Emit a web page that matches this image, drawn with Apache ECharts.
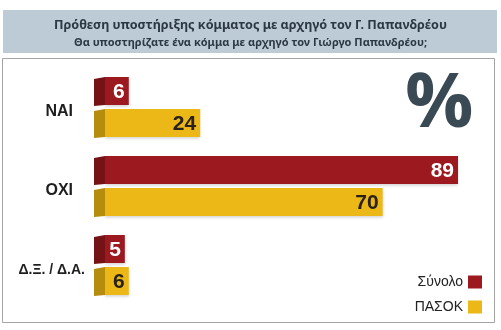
<!DOCTYPE html>
<html>
<head>
<meta charset="utf-8">
<script src="https://cdn.jsdelivr.net/npm/echarts@6/dist/echarts.min.js"></script>
<style>
  html, body { margin: 0; padding: 0; background: #fff; }
  #chart { width: 501px; height: 330px; }
</style>
</head>
<body>
<div id="chart"></div>
<script>
// Poll answers (%), one row per answer
const categories = ['NAI', 'OXI', 'Δ.Ξ. / Δ.Α.'];
const totalValues = [6, 89, 5];   // Σύνολο
const pasokValues = [24, 70, 6];  // ΠΑΣΟΚ

const seriesNames = ['Σύνολο', 'ΠΑΣΟΚ'];
const titleText = 'Πρόθεση υποστήριξης κόμματος με αρχηγό τον Γ. Παπανδρέου';
const subtitleText = 'Θα υποστηρίζατε ένα κόμμα με αρχηγό τον Γιώργο Παπανδρέου;';

const LABEL_FONT = "'Liberation Sans', Arial, sans-serif";

const palette = [
  { front: '#9c1a1f', side: '#741216', label: '#ffffff' },
  { front: '#ebb817', side: '#b68c0e', label: '#2a2218' }
];

// 3D-looking bar: a slanted side face left of zero plus the front face
function makeRenderer(seriesIdx) {
  return function (params, api) {
    const value = api.value(0);
    const cat = api.value(1);
    const start = api.coord([0, cat]);
    const end = api.coord([value, cat]);
    const band = api.size([0, 1])[1];
    const h = band * 0.355;
    const gap = band * 0.025;
    const yTop = seriesIdx === 0 ? start[1] - gap - h : start[1] + gap;
    const depth = 11;
    const col = palette[seriesIdx];
    return {
      type: 'group',
      children: [
        {
          type: 'rect',
          shape: { x: start[0], y: yTop, width: end[0] - start[0], height: h },
          style: {
            fill: col.front,
            shadowColor: 'rgba(0,0,0,0.18)',
            shadowBlur: 3,
            shadowOffsetY: 2
          }
        },
        {
          type: 'polygon',
          shape: {
            points: [
              [start[0] - depth, yTop + 2],
              [start[0], yTop],
              [start[0], yTop + h],
              [start[0] - depth, yTop + h + 1]
            ]
          },
          style: { fill: col.side }
        },
        {
          type: 'text',
          style: {
            x: end[0] - 4,
            y: yTop + h / 2 + 1,
            text: String(value),
            align: 'right',
            verticalAlign: 'middle',
            fill: col.label,
            font: "bold 21px " + LABEL_FONT
          }
        }
      ]
    };
  };
}

function toData(values) {
  return values.map(function (v, i) { return [v, i]; });
}

const chart = echarts.init(document.getElementById('chart'), null, { renderer: 'canvas' });

chart.setOption({
  animation: false,
  backgroundColor: '#ffffff',
  title: {
    text: titleText,
    subtext: subtitleText,
    left: 'center',
    top: 19,
    itemGap: 5,
    padding: 0,
    textStyle: {
      fontFamily: "'Noto Sans', sans-serif",
      fontWeight: 'bold',
      fontSize: 12.6,
      color: '#2c3944'
    },
    subtextStyle: {
      fontFamily: "'Noto Sans', sans-serif",
      fontWeight: 'bold',
      fontSize: 11,
      color: '#2c3944'
    }
  },
  graphic: [
    {
      type: 'rect',
      z: -10,
      shape: { x: 3, y: 10, width: 494, height: 43 },
      style: { fill: '#bccbd6' }
    },
    {
      type: 'rect',
      z: -10,
      shape: { x: 2.5, y: 58.5, width: 492, height: 264 },
      style: { fill: '#ffffff', stroke: '#a5a5a5', lineWidth: 1 }
    },
    {
      type: 'text',
      left: 405,
      top: 67,
      style: {
        text: '%',
        font: "bold 76px 'Open Sans', sans-serif",
        fill: '#394a55'
      }
    }
  ],
  legend: {
    orient: 'vertical',
    right: 19,
    top: 275,
    padding: 0,
    align: 'right',
    itemWidth: 14,
    itemHeight: 13,
    itemGap: 11,
    icon: 'rect',
    data: seriesNames,
    textStyle: {
      fontFamily: LABEL_FONT,
      fontSize: 14,
      color: '#222222'
    }
  },
  grid: { left: 105, right: 39, top: 67.5, bottom: 25.5, outerBoundsMode: 'none', containLabel: false },
  xAxis: {
    type: 'value',
    min: 0,
    max: 90,
    show: false
  },
  yAxis: {
    type: 'category',
    data: categories,
    inverse: true,
    axisLine: { show: false },
    axisTick: { show: false },
    splitLine: { show: false },
    axisLabel: {
      margin: 20,
      align: 'right',
      formatter: function (v) {
        return v.length > 4 ? '{w|' + v + '}' : '{n|' + v + '}';
      },
      rich: {
        n: {
          fontFamily: LABEL_FONT, fontWeight: 'bold', fontSize: 16,
          color: '#1e1e1e', padding: [10, 12, 0, 0]
        },
        w: {
          fontFamily: LABEL_FONT, fontWeight: 'bold', fontSize: 14,
          color: '#1e1e1e', padding: [10, 0, 0, 0]
        }
      }
    }
  },
  series: [
    {
      name: seriesNames[0],
      type: 'custom',
      renderItem: makeRenderer(0),
      itemStyle: { color: palette[0].front },
      encode: { x: 0, y: 1 },
      data: toData(totalValues)
    },
    {
      name: seriesNames[1],
      type: 'custom',
      renderItem: makeRenderer(1),
      itemStyle: { color: palette[1].front },
      encode: { x: 0, y: 1 },
      data: toData(pasokValues)
    }
  ]
});
</script>
</body>
</html>
